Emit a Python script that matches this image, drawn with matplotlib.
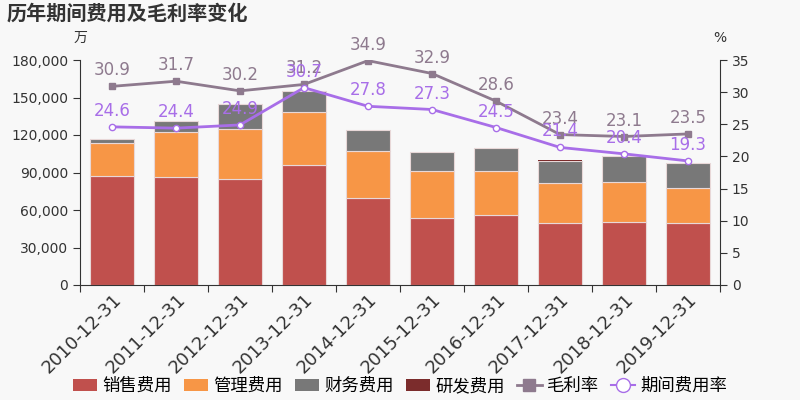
import numpy as np
import matplotlib
matplotlib.use("Agg")
import matplotlib.pyplot as plt
from matplotlib.lines import Line2D
from matplotlib.patches import Patch

plt.rcParams['font.family'] = ['DejaVu Sans', 'Noto Sans CJK SC']

dates = ['2010-12-31', '2011-12-31', '2012-12-31', '2013-12-31', '2014-12-31',
         '2015-12-31', '2016-12-31', '2017-12-31', '2018-12-31', '2019-12-31']
sales_exp = [87200, 86400, 84800, 96000, 69600, 53600, 56000, 49600, 50400, 49600]
admin_exp = [26400, 36000, 40000, 42400, 37600, 37600, 35200, 32000, 32000, 28000]
fin_exp = [3200, 8800, 20000, 16800, 16800, 15200, 18400, 17600, 20800, 20000]
rd_exp = [0, 0, 0, 0, 0, 0, 0, 500, 300, 0]
gross_margin = [30.9, 31.7, 30.2, 31.2, 34.9, 32.9, 28.6, 23.4, 23.1, 23.5]
expense_rate = [24.6, 24.4, 24.9, 30.7, 27.8, 27.3, 24.5, 21.4, 20.4, 19.3]

c_sales = '#c0504d'
c_admin = '#f79646'
c_fin = '#787878'
c_rd = '#7b2c2c'
c_gm = '#8e7a8e'
c_er = '#a86ee8'
bg = '#f8f8f8'

fig = plt.figure(figsize=(8, 4), dpi=100, facecolor=bg)
ax = fig.add_axes([0.1, 0.2875, 0.8, 0.5625], facecolor=bg)
ax2 = ax.twinx()

x = np.arange(len(dates))
w = 0.7
s = np.array(sales_exp)
a = np.array(admin_exp)
f = np.array(fin_exp)
r = np.array(rd_exp)
kw = dict(width=w, edgecolor='#e8d8d8', linewidth=0.8)
ax.bar(x, s, color=c_sales, **kw)
ax.bar(x, a, bottom=s, color=c_admin, **kw)
ax.bar(x, f, bottom=s + a, color=c_fin, **kw)
ax.bar(x, r, bottom=s + a + f, color=c_rd, width=w, linewidth=0)

ax.set_xlim(-0.5, len(dates) - 0.5)
ax.set_ylim(0, 180000)
ax.set_yticks(np.arange(0, 180001, 30000))
ax.yaxis.set_major_formatter(matplotlib.ticker.FuncFormatter(lambda v, p: f'{int(v):,}'))
ax.set_xticks(np.arange(len(dates) + 1) - 0.5, minor=False)
ax.set_xticklabels([])
ax.set_xticks(x, minor=True)
ax.set_xticklabels(dates, minor=True, rotation=45, ha='right', rotation_mode='anchor',
                   fontsize=13, color='#333333')
ax.tick_params(axis='x', which='minor', length=0, pad=4)
ax.tick_params(axis='x', which='major', length=5, color='#333333')
ax.tick_params(axis='y', labelsize=10, colors='#333333', length=5)

ax2.set_ylim(0, 35)
ax2.set_yticks(np.arange(0, 36, 5))
ax2.tick_params(axis='y', labelsize=10, colors='#333333', length=5)

for a_ in (ax, ax2):
    a_.spines['top'].set_visible(False)
    for sp in ['left', 'right', 'bottom']:
        a_.spines[sp].set_color('#333333')
ax.spines['right'].set_visible(False)
ax2.spines['left'].set_visible(False)
ax2.spines['bottom'].set_visible(False)

ax2.plot(x, gross_margin, color=c_gm, lw=2, marker='s', ms=4, mfc=c_gm, mec=c_gm)
ax2.plot(x, expense_rate, color=c_er, lw=2, marker='o', ms=4.5, mfc='white', mec=c_er)
for i in x:
    ax2.annotate(f'{gross_margin[i]}', (i, gross_margin[i]), xytext=(0, 5),
                 textcoords='offset points', ha='center', va='bottom', fontsize=12, color=c_gm)
    ax2.annotate(f'{expense_rate[i]}', (i, expense_rate[i]), xytext=(0, 5),
                 textcoords='offset points', ha='center', va='bottom', fontsize=12, color=c_er)

fig.text(0.008, 0.965, '历年期间费用及毛利率变化', fontsize=14.5, fontweight='bold',
         color='#333333', ha='left', va='center')
fig.text(0.1, 0.905, '万', fontsize=10, color='#333333', ha='center', va='center')
fig.text(0.9, 0.905, '%', fontsize=10, color='#333333', ha='center', va='center')

handles = [
    Patch(facecolor=c_sales, label='销售费用'),
    Patch(facecolor=c_admin, label='管理费用'),
    Patch(facecolor=c_fin, label='财务费用'),
    Patch(facecolor=c_rd, label='研发费用'),
    Line2D([], [], color=c_gm, lw=2, marker='s', ms=8, label='毛利率'),
    Line2D([], [], color=c_er, lw=1.5, marker='o', ms=10, mfc='white', label='期间费用率'),
]
fig.legend(handles=handles, loc='center', bbox_to_anchor=(0.5, 0.035), ncol=6, frameon=False,
           fontsize=12.5, handlelength=1.4, handletextpad=0.3, columnspacing=0.7)

fig.savefig('out.png', dpi=100, facecolor=bg)
